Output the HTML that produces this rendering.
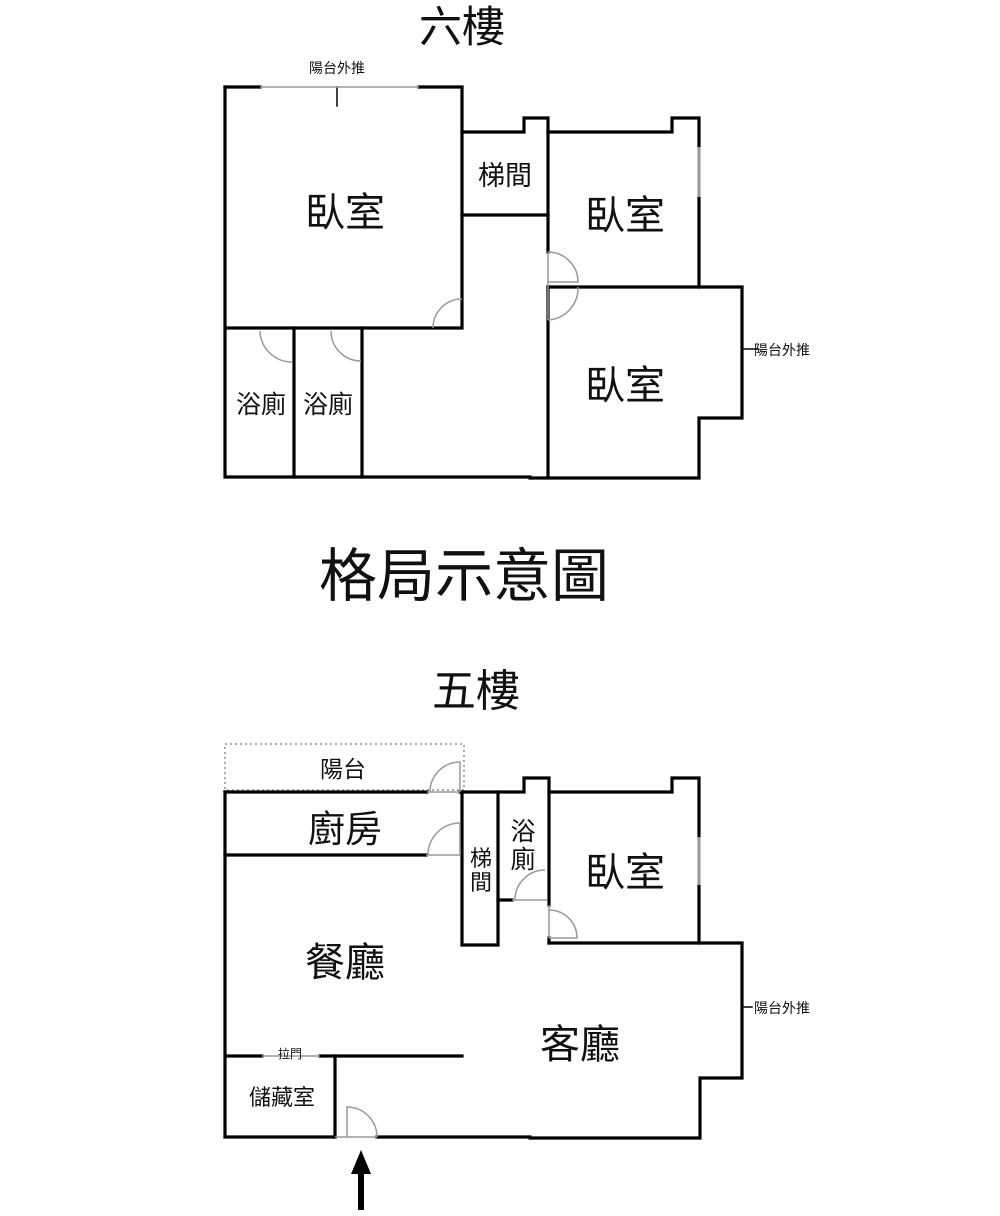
<!DOCTYPE html>
<html><head><meta charset="utf-8"><style>
html,body{margin:0;padding:0;background:#fff;width:1000px;height:1216px;overflow:hidden}
svg text{font-family:"Liberation Sans","Noto Sans CJK TC",sans-serif;fill:#111}
</style></head><body>
<svg width="1000" height="1216" viewBox="0 0 1000 1216" xmlns="http://www.w3.org/2000/svg">
<g text-anchor="middle">
<text x="462" y="42" font-size="43">六樓</text>
<text x="464" y="596" font-size="58">格局示意圖</text>
<text x="476" y="706" font-size="44">五樓</text>
</g>
<!-- SIXTH FLOOR -->
<g stroke="#000" stroke-width="3.2" fill="none" stroke-linecap="square">
<path d="M225 87 V477 H530 V478 H699 V418 H742 V287 H548"/>
<path d="M225 87 H260 M419 87 H462 V328 H225"/>
<path d="M462 132 H524 V118 H548 V252 M548 287 V477"/>
<path d="M548 132 H672 V118 H699 V147 M699 197 V287"/>
<path d="M462 215 H548"/>
<path d="M294 328 V477 M362 328 V477"/>
<path d="M337 87 V106" stroke-width="1.5"/>
<path d="M742 349 H758" stroke-width="1.5"/>
</g>
<g stroke="#999" stroke-width="1.5" fill="none">
<path d="M260 87 H419"/>
<path d="M699 147 V197" stroke-width="3"/>
<path d="M548 252 V320"/>
<path d="M548 252 A30 30 0 0 1 578 282 H548"/>
<path d="M548 320 A32 32 0 0 0 578 287"/>
<path d="M433 328 A29 29 0 0 1 462 299"/>
<path d="M260 331 A32 32 0 0 0 292 362"/>
<path d="M331 331 A30 30 0 0 0 361 361"/>
</g>
<g text-anchor="middle">
<text x="345" y="226" font-size="40">臥室</text>
<text x="505" y="185" font-size="27">梯間</text>
<text x="625" y="229" font-size="40">臥室</text>
<text x="625" y="399" font-size="40">臥室</text>
<text x="261" y="413" font-size="25">浴廁</text>
<text x="328" y="413" font-size="25">浴廁</text>
<text x="337" y="73" font-size="14">陽台外推</text>
</g>
<text x="754" y="355" font-size="14">陽台外推</text>

<!-- FIFTH FLOOR -->
<rect x="225" y="744" width="239" height="46" fill="none" stroke="#aaa" stroke-width="2" stroke-dasharray="2 3"/>
<g stroke="#000" stroke-width="3.2" fill="none" stroke-linecap="square">
<path d="M225 792 V1137 H335 M377 1137 H530 V1138 H700 V1078 H742 V943 H549"/>
<path d="M225 792 H427 M460 792 H524 V778 H549 V792 H672 V778 H699 V837 M699 885 V943"/>
<path d="M225 855 H426"/>
<path d="M462 792 V945 H498 V792"/>
<path d="M549 792 V905 M549 938 V943"/>
<path d="M498 900 H512"/>
<path d="M225 1056 H262 M320 1056 H462"/>
<path d="M335 1056 V1137"/>
<path d="M742 1007 H752" stroke-width="1.5"/>
</g>
<g stroke="#999" stroke-width="1.5" fill="none">
<path d="M427 792 H460"/>
<path d="M430 792 A30 30 0 0 1 460 762 V792"/>
<path d="M426 855 H460"/>
<path d="M428 855 A32 32 0 0 1 460 823 V855"/>
<path d="M699 837 V885" stroke-width="3"/>
<path d="M512 900 H547"/>
<path d="M515 900 A30 30 0 0 1 545 870"/>
<path d="M549 905 V938"/>
<path d="M549 910 A28 28 0 0 1 577 938 H549"/>
<path d="M262 1056 H320"/>
<path d="M335 1137 H377"/>
<path d="M347 1137 V1107 A30 30 0 0 1 377 1137"/>
</g>
<g text-anchor="middle">
<text x="343" y="777" font-size="23">陽台</text>
<text x="345" y="842" font-size="37">廚房</text>
<text x="481" y="866" font-size="22">梯</text>
<text x="481" y="890" font-size="22">間</text>
<text x="523" y="840" font-size="25">浴</text>
<text x="523" y="868" font-size="25">廁</text>
<text x="625" y="886" font-size="40">臥室</text>
<text x="345" y="976" font-size="40">餐廳</text>
<text x="580" y="1058" font-size="40">客廳</text>
<text x="282" y="1105" font-size="22">儲藏室</text>
<text x="290" y="1058" font-size="12">拉門</text>
</g>
<text x="754" y="1013" font-size="14">陽台外推</text>
<!-- arrow -->
<path d="M361 1150 L371 1174 H364 V1210 H358 V1174 H351 Z" fill="#000"/>
</svg>
</body></html>
